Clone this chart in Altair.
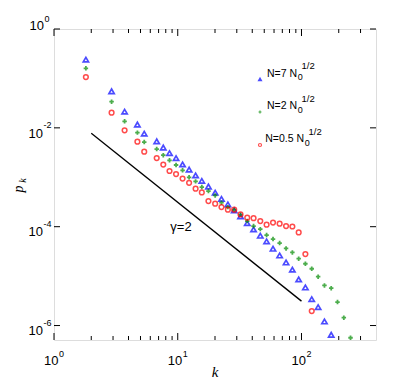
import altair as alt
import pandas as pd

# ---- data ----
k_bins = [1.81, 2.92, 3.72, 4.72, 5.36, 6.76, 7.64, 8.58, 9.69, 10.94, 12.35, 13.94,
          15.65, 17.70, 20.06, 22.56, 25.42, 28.59, 32.16, 36.44, 40.99, 46.45, 52.24,
          58.87, 66.58, 75.03, 84.38, 94.91, 107.5, 121.0, 136.3, 153.3, 173.8, 195.4,
          219.8, 249.0]
p_blue = [0.240, 0.0548, 0.0213, 0.01166, 0.00763, 0.00533, 0.00399, 0.00308, 0.00244,
          0.00182, 0.00143, 0.00109, 8.45e-4, 6.48e-4, 4.88e-4, 3.65e-4, 2.83e-4, 2.14e-4,
          1.62e-4, 1.18e-4, 8.81e-5, 6.57e-5, 5.04e-5, 3.59e-5, 2.62e-5, 1.89e-5, 1.35e-5,
          8.58e-6, 5.90e-6, 3.42e-6, 2.36e-6, 1.21e-6, 6.51e-7]
p_green = [0.160, 0.0339, 0.01355, 0.0080, 0.00516, 0.00372, 0.00280, 0.00220, 0.00177,
           0.00138, 9.96e-4, 8.26e-4, 6.34e-4, 5.26e-4, 4.30e-4, 3.06e-4, 2.49e-4, 2.19e-4,
           1.75e-4, 1.30e-4, 1.03e-4, 8.93e-5, 6.76e-5, 5.61e-5, 4.66e-5, 3.64e-5, 3.02e-5,
           2.25e-5, 1.78e-5, 1.41e-5, 9.73e-6, 6.48e-6, 5.71e-6, 2.98e-6, 1.44e-6, 5.66e-7]
p_red = [0.1067, 0.0203, 0.00890, 0.00526, 0.00330, 0.00245, 0.00181, 0.00134, 0.00116,
         9.42e-4, 7.71e-4, 5.88e-4, 4.94e-4, 3.30e-4, 2.92e-4, 2.49e-4, 2.21e-4, 2.21e-4,
         1.77e-4, 1.52e-4, 1.49e-4, 1.30e-4, 1.10e-4, 1.21e-4, 1.15e-4, 1.03e-4, 1.01e-4,
         7.67e-5, 2.79e-5, 1.96e-6]
line_k = [2.0, 100.0]
line_p = [0.0078, 3.12e-6]

legend_main = ["N=7 N", "N=2 N", "N=0.5 N"]
legend_sub = ["0", "0", "0"]
legend_sup = ["1/2", "1/2", "1/2"]

x_major = [1, 10, 100]
x_major_exp = ["0", "1", "2"]
x_minor = [2, 3, 4, 5, 6, 7, 8, 9, 20, 30, 40, 50, 60, 70, 80, 90, 200, 300]
y_major = [1.0, 1e-2, 1e-4, 1e-6]
y_major_exp = ["0", "-2", "-4", "-6"]

# ---- layout ----
W, H = 322, 311
SANS = "Liberation Sans, Arial, sans-serif"
SERIF = "Liberation Serif, DejaVu Serif, serif"

xs = alt.Scale(type="log", domain=[1, 400], nice=False)
ys = alt.Scale(type="log", domain=[5.1e-7, 1], nice=False)


def X(f="k"):
    return alt.X(f"{f}:Q", scale=xs, axis=None)


def Y(f="p"):
    return alt.Y(f"{f}:Q", scale=ys, axis=None)


def series(ps):
    return pd.DataFrame({"k": k_bins[:len(ps)], "p": ps})


blue = alt.Chart(series(p_blue)).mark_point(
    shape="triangle-up", filled=False, color="#0000ff", size=28, strokeWidth=1.7
).encode(x=X(), y=Y())
green = alt.Chart(series(p_green)).mark_point(
    shape="cross", filled=True, color="#008a00", size=20, strokeWidth=0
).encode(x=X(), y=Y())
red = alt.Chart(series(p_red)).mark_point(
    shape="circle", filled=False, color="#ff0000", size=22, strokeWidth=1.5
).encode(x=X(), y=Y())

fit = alt.Chart(pd.DataFrame({"k": line_k, "p": line_p})).mark_line(
    color="black", strokeWidth=1.3
).encode(x=X(), y=Y())

# ticks (inward)
xmaj = pd.DataFrame({"k": x_major, "e": x_major_exp})
xmin = pd.DataFrame({"k": x_minor})
ymaj = pd.DataFrame({"p": y_major, "e": y_major_exp})

ticks = [
    alt.Chart(xmaj).mark_rule(color="black", strokeWidth=1).encode(x=X(), y=alt.value(H), y2=alt.value(H - 7)),
    alt.Chart(xmin).mark_rule(color="black", strokeWidth=1).encode(x=X(), y=alt.value(H), y2=alt.value(H - 4)),
    alt.Chart(xmaj).mark_rule(color="black", strokeWidth=1).encode(x=X(), y=alt.value(0), y2=alt.value(7)),
    alt.Chart(xmin).mark_rule(color="black", strokeWidth=1).encode(x=X(), y=alt.value(0), y2=alt.value(4)),
    alt.Chart(ymaj).mark_rule(color="black", strokeWidth=1).encode(y=Y(), x=alt.value(0), x2=alt.value(6)),
    alt.Chart(ymaj).mark_rule(color="black", strokeWidth=1).encode(y=Y(), x=alt.value(W), x2=alt.value(W - 6)),
]

# tick labels
xlab = [
    alt.Chart(xmaj).mark_text(align="right", fontSize=13, font=SANS, dx=4.5).encode(
        x=X(), y=alt.value(H + 21), text=alt.value("10")),
    alt.Chart(xmaj).mark_text(align="left", fontSize=9, font=SANS, dx=5).encode(
        x=X(), y=alt.value(H + 14), text="e:N"),
]
ymaj_rest = ymaj[ymaj["p"] < 1]
ymaj_top = ymaj[ymaj["p"] >= 1]
ylab = [
    alt.Chart(ymaj_rest).mark_text(align="right", fontSize=13, font=SANS, dy=5.8).encode(
        y=Y(), x=alt.value(-11), text=alt.value("10")),
    alt.Chart(ymaj_rest).mark_text(align="left", fontSize=9, font=SANS, dy=-2.5).encode(
        y=Y(), x=alt.value(-10.5), text="e:N"),
    alt.Chart(ymaj_top).mark_text(align="right", fontSize=13, font=SANS, dy=-2.7).encode(
        y=Y(), x=alt.value(-10), text=alt.value("10")),
    alt.Chart(ymaj_top).mark_text(align="left", fontSize=9, font=SANS, dy=-10).encode(
        y=Y(), x=alt.value(-9.5), text="e:N"),
]


def txt(x, y, s, size=12, align="left", font=SANS, style="normal", angle=0):
    return alt.Chart(pd.DataFrame({"t": [s]})).mark_text(
        align=align, baseline="alphabetic", fontSize=size, font=font,
        fontStyle=style, angle=angle, color="black"
    ).encode(x=alt.value(x), y=alt.value(y), text="t:N")


# legend
leg_colors = ["#0000ff", "#008a00", "#ff0000"]
leg_shapes = ["triangle-up", "cross", "circle"]
leg_filled = [False, True, False]
leg_marker_y = [50.3, 83, 116]
leg_base_y = [47.7, 80.4, 113.4]
leg_end_x = [243, 243, 250]
legend = []
for i in range(3):
    legend.append(
        alt.Chart(pd.DataFrame({"t": [legend_main[i]]})).mark_point(
            shape=leg_shapes[i], filled=leg_filled[i], color=leg_colors[i],
            size=9, strokeWidth=1.2 if not leg_filled[i] else 0
        ).encode(x=alt.value(206), y=alt.value(leg_marker_y[i]))
    )
    legend.append(txt(leg_end_x[i], leg_base_y[i], legend_main[i], size=10.5, align="right"))
    legend.append(txt(leg_end_x[i] + 0.7, leg_base_y[i] + 3.3, legend_sub[i], size=9))
    legend.append(txt(leg_end_x[i] + 4.5, leg_base_y[i] - 7.4, legend_sup[i], size=9.5))

annot = [
    txt(127, 202, "γ=2", size=13, align="center"),
    txt(W / 2, H + 37, "k", size=15, align="center", font=SERIF, style="italic"),
    txt(-31, 160, "p", size=14, align="center", font=SERIF, style="italic", angle=270),
    txt(-28, 151.5, "k", size=10, align="center", font=SERIF, style="italic", angle=270),
]

chart = alt.layer(
    fit, blue, green, red, *ticks, *xlab, *ylab, *legend, *annot
).properties(
    width=W, height=H,
    autosize=alt.AutoSizeParams(type="none"),
    padding={"left": 46, "top": 21, "right": 30, "bottom": 40},
).configure_view(stroke="black", strokeWidth=1.3).configure(background="white")

chart.save("out.html", embed_options={"renderer": "svg", "actions": False})
